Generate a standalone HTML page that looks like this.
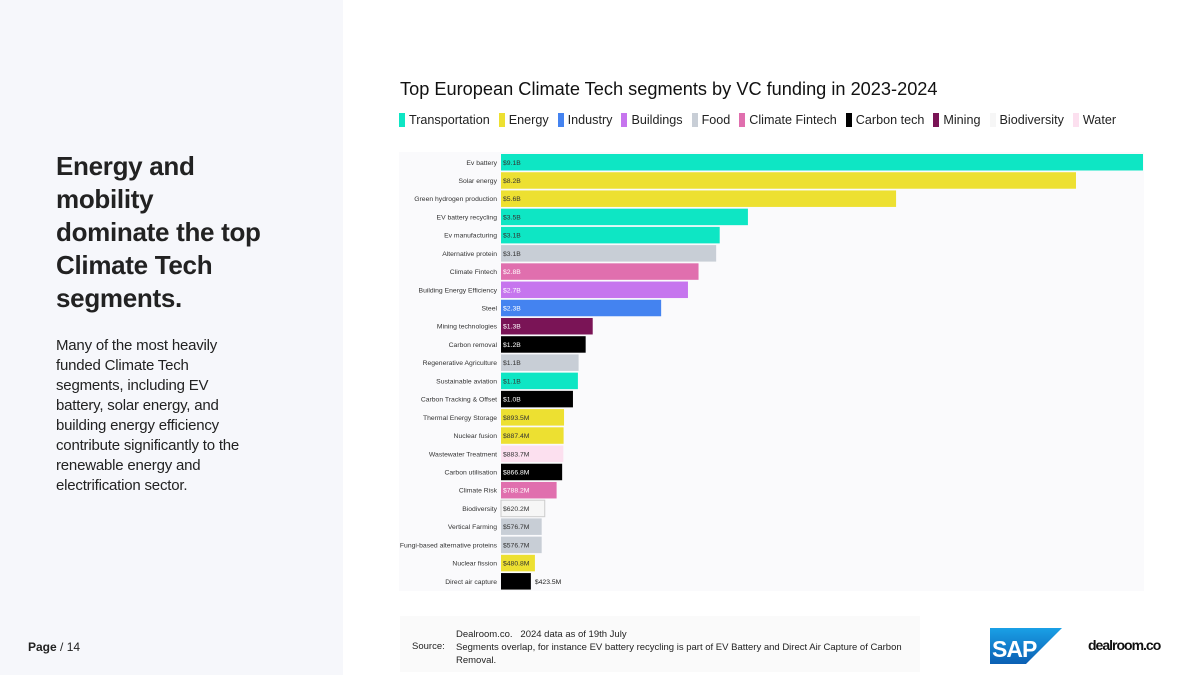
<!DOCTYPE html>
<html><head><meta charset="utf-8"><style>
body{margin:0;width:1200px;height:675px;position:relative;overflow:hidden;background:#fff;font-family:"Liberation Sans","Noto Sans CJK SC",sans-serif;}
#left{position:absolute;left:0;top:0;width:343px;height:675px;background:#f6f7fb;}
h1{position:absolute;left:56px;top:150px;margin:0;font-size:26px;line-height:33px;font-weight:bold;color:#222;width:280px;letter-spacing:-0.3px;}
#desc{position:absolute;left:56px;top:336px;font-size:15px;line-height:20px;color:#222;width:280px;letter-spacing:-0.2px;}
#page{position:absolute;left:28px;top:640px;font-size:12px;color:#222;}
#title{position:absolute;left:400px;top:79px;font-size:18.2px;color:#111;}
#legend{position:absolute;left:399px;top:113px;font-size:12.6px;color:#222;display:flex;gap:9px;}
.li{display:flex;align-items:center;}
.sw{width:6px;height:14px;margin-right:4px;}
#src{position:absolute;left:400px;top:616px;width:520px;height:56px;background:#fafafa;font-size:9.5px;color:#222;}
</style></head><body>
<div id="left"></div>
<h1>Energy and<br>mobility<br>dominate the top<br>Climate Tech<br>segments.</h1>
<div id="desc">Many of the most heavily<br>funded Climate Tech<br>segments, including EV<br>battery, solar energy, and<br>building energy efficiency<br>contribute significantly to the<br>renewable energy and<br>electrification sector.</div>
<div id="page"><b>Page</b> / 14</div>
<div id="title">Top European Climate Tech segments by VC funding in 2023-2024</div>
<div id="legend"></div>
<svg id="chart" style="position:absolute;left:0;top:0" width="1200" height="675"></svg>
<div id="src">
<div style="position:absolute;left:12px;top:25px">Source:</div>
<div style="position:absolute;left:56px;top:12px;line-height:13px;width:450px">Dealroom.co.&nbsp;&nbsp; 2024 data as of 19th July<br>Segments overlap, for instance EV battery recycling is part of EV Battery and Direct Air Capture of Carbon<br>Removal.</div>
</div>
<svg style="position:absolute;left:990px;top:628px" width="72" height="36"><defs><linearGradient id="g" x1="0" y1="0" x2="0" y2="1"><stop offset="0" stop-color="#1aa0e6"/><stop offset="1" stop-color="#0b5fb3"/></linearGradient></defs><polygon points="0,0 72,0 36,36 0,36" fill="url(#g)"/><text x="2" y="29" font-family="Liberation Sans" font-weight="bold" font-size="23" fill="#fff" letter-spacing="-1">SAP</text></svg>
<div style="position:absolute;left:1088px;top:637px;font-size:14px;font-weight:bold;color:#111;letter-spacing:-1px">dealroom.co</div>
<script>
const legendNames=["Transportation","Energy","Industry","Buildings","Food","Climate Fintech","Carbon tech","Mining","Biodiversity","Water"];
const legendColors=["#0ee6c4","#ede031","#4483f0","#c675ee","#c8ced6","#e06fae","#000000","#7a1456","#f6f6f6","#fce0ef"];
const categories=["Ev battery","Solar energy","Green hydrogen production","EV battery recycling","Ev manufacturing","Alternative protein","Climate Fintech","Building Energy Efficiency","Steel","Mining technologies","Carbon removal","Regenerative Agriculture","Sustainable aviation","Carbon Tracking & Offset","Thermal Energy Storage","Nuclear fusion","Wastewater Treatment","Carbon utilisation","Climate Risk","Biodiversity","Vertical Farming","Fungi-based alternative proteins","Nuclear fission","Direct air capture"];
const values=[9.1,8.15,5.6,3.5,3.1,3.05,2.8,2.65,2.27,1.3,1.2,1.1,1.09,1.02,0.8935,0.8874,0.8837,0.8668,0.7882,0.6202,0.5767,0.5767,0.4808,0.4235];
const valueLabels=["$9.1B","$8.2B","$5.6B","$3.5B","$3.1B","$3.1B","$2.8B","$2.7B","$2.3B","$1.3B","$1.2B","$1.1B","$1.1B","$1.0B","$893.5M","$887.4M","$883.7M","$866.8M","$788.2M","$620.2M","$576.7M","$576.7M","$480.8M","$423.5M"];
const groups=[0,1,1,0,0,4,5,3,2,7,6,4,0,6,1,1,9,6,5,8,4,4,1,6];
const lightText=[6,7,8,9,10,13,17,18];
const lg=document.getElementById('legend');
legendNames.forEach((n,i)=>{const d=document.createElement('div');d.className='li';


d.innerHTML='<span class="sw" style="background:'+legendColors[i]+'"></span>'+n;lg.appendChild(d);});
const svg=document.getElementById('chart');const NS='http://www.w3.org/2000/svg';
const x0=501,scale=642/9.1,y0=154,step=18.22,bh=16.5;
const X=v=>x0+v*scale, Y=i=>y0+i*step;
const bg=document.createElementNS(NS,'rect');


bg.setAttribute('x',399);bg.setAttribute('y',152);bg.setAttribute('width',745);bg.setAttribute('height',439);bg.setAttribute('fill','#fafafc');svg.appendChild(bg);
categories.forEach((c,i)=>{
const r=document.createElementNS(NS,'rect');


r.setAttribute('x',x0);r.setAttribute('y',Y(i));r.setAttribute('width',X(values[i])-x0);r.setAttribute('height',bh);
r.setAttribute('fill',legendColors[groups[i]]);if(groups[i]==8){r.setAttribute('stroke','#ccc');r.setAttribute('stroke-width','1');}
svg.appendChild(r);
const t=document.createElementNS(NS,'text');


t.setAttribute('x',x0-4);t.setAttribute('y',Y(i)+bh/2+2.5);t.setAttribute('text-anchor','end');t.setAttribute('font-size','6.8');t.setAttribute('fill','#333');t.textContent=c;svg.appendChild(t);
const v=document.createElementNS(NS,'text');


const outside=(X(values[i])-x0)<31;
v.setAttribute('x',outside?X(values[i])+4:x0+2);v.setAttribute('y',Y(i)+bh/2+2.5);v.setAttribute('font-size','6.8');
v.setAttribute('fill',outside?'#222':(lightText.includes(i)?'#fff':'#333'));v.textContent=valueLabels[i];svg.appendChild(v);
});
</script>
</body></html>
